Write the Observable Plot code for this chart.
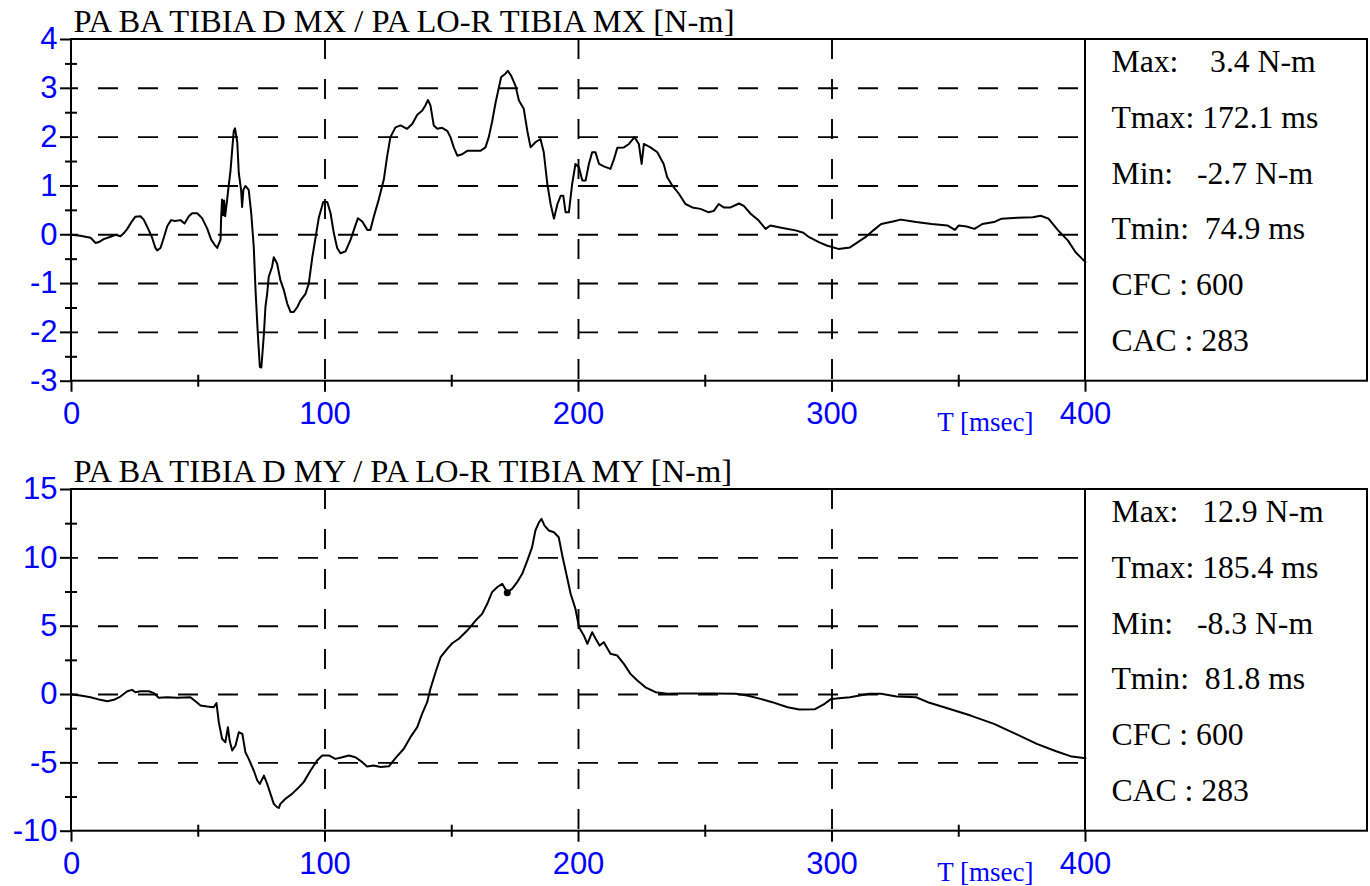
<!DOCTYPE html>
<html>
<head>
<meta charset="utf-8">
<script src="https://cdn.jsdelivr.net/npm/d3@7"></script>
<script src="https://cdn.jsdelivr.net/npm/@observablehq/plot@0.6"></script>
<style>
html, body { margin: 0; padding: 0; background: #fff; }
#chart svg { display: block; }
</style>
</head>
<body>
<div id="chart"></div>
<script>
const BLUE = "#0000ff";
const SERIF = "'Liberation Serif','Times New Roman',serif";
const SANS = "'Liberation Sans',Arial,sans-serif";

// shared time axis
const xTicks = [0, 100, 200, 300, 400];
const xMinor = [50, 150, 250, 350];
const xGrid = [100, 200, 300];
const xLabel = "T [msec]";

// ---- panel 1: MX ----
const mxTitle = "PA BA TIBIA D MX / PA LO-R TIBIA MX [N-m]";
const mxT = [0,3.5,7.5,9.5,10.8,12.7,15.4,17.4,19.3,20.6,22,23.9,25.2,27.2,28.5,29.9,31.8,33.1,33.8,35.1,36.4,37.8,39.3,40.8,43,44.6,46.3,47.6,49.6,51.5,53.5,55.1,56.4,57.5,58,58.8,59,59.4,59.8,60.2,60.6,61.4,62,62.7,63.4,64,64.5,65.4,66,66.9,67.3,67.8,68.6,69.9,70.9,71.9,72.6,73.5,74.3,74.9,75.9,76.5,77.2,77.8,79.1,79.8,81.1,82.4,83.8,85.1,86.4,87.7,89.1,90.3,92.3,93.6,95,96.3,97.6,99.3,100.9,102.2,103.5,104.8,106.1,108.1,110.1,111.4,113,114.7,116.7,117.9,119.3,121.2,123.2,124.5,125.8,127.8,129.8,132.4,134.4,136.4,138.3,139.6,140.6,141.6,142.9,144.3,146.2,148.2,149.5,150.8,152.2,154.1,156.1,158.7,161.3,163.3,164.6,165.9,167.3,168.6,169.5,171.2,172.1,173.4,175.1,176.5,178.4,179.8,181.1,183.1,185,186.3,187.7,189,190.3,191.7,193,194,194.9,196.2,197.5,198.8,200.2,201.5,202.8,204.1,205.4,206.7,208.1,210,212.6,214,215.3,217.9,219.9,222.1,223.8,224.9,225.8,228.4,231.1,233.6,235,237,239.6,242.2,244.9,248.1,251.4,253.4,255.3,257.3,260,263.3,265.2,267.9,271.1,273.8,275.7,279.5,285.6,288.7,291,294.8,297.9,302.5,307.1,310.2,313.2,316.3,319.4,324,327.1,333.2,339.3,345.5,348.5,350,353.1,356.2,359.3,363.9,366.9,373.1,379.2,382.3,385.4,389.2,393.1,396.1,400];
const mxV = [0,-0.02,-0.06,-0.17,-0.15,-0.09,-0.04,0,-0.03,0.03,0.12,0.28,0.37,0.38,0.31,0.16,-0.06,-0.27,-0.32,-0.27,-0.06,0.18,0.3,0.28,0.3,0.23,0.38,0.44,0.44,0.34,0.13,-0.1,-0.2,-0.27,-0.2,-0.1,0.31,0.72,0.4,0.7,0.38,0.72,1.0,1.3,1.75,2.12,2.18,1.89,1.26,0.92,0.57,0.92,1.0,0.92,0.44,-0.25,-1.14,-2.03,-2.71,-2.72,-2.03,-1.48,-1.2,-0.86,-0.66,-0.46,-0.59,-0.93,-1.14,-1.41,-1.58,-1.58,-1.48,-1.35,-1.21,-1.0,-0.46,-0.05,0.36,0.67,0.67,0.44,0.03,-0.27,-0.38,-0.34,-0.1,0.1,0.34,0.27,0.1,0.1,0.38,0.72,1.13,1.6,2.0,2.2,2.24,2.17,2.27,2.46,2.54,2.65,2.76,2.65,2.24,2.17,2.19,2.13,2.0,1.79,1.62,1.65,1.72,1.72,1.72,1.79,2.0,2.31,2.71,3.02,3.23,3.3,3.36,3.26,3.06,2.75,2.58,2.13,1.79,1.9,1.96,1.69,1.04,0.63,0.33,0.63,0.8,0.8,0.46,0.46,1.04,1.45,1.38,1.11,1.11,1.45,1.69,1.69,1.45,1.4,1.35,1.55,1.78,1.79,1.86,2.0,1.86,1.45,1.86,1.79,1.69,1.45,1.18,1.01,0.84,0.63,0.56,0.53,0.46,0.49,0.63,0.56,0.56,0.64,0.59,0.43,0.29,0.12,0.19,0.15,0.09,0.04,-0.05,-0.15,-0.22,-0.29,-0.26,-0.15,-0.05,0.09,0.22,0.27,0.31,0.26,0.22,0.19,0.1,0.19,0.17,0.12,0.22,0.26,0.33,0.35,0.36,0.39,0.33,0.09,-0.12,-0.36,-0.56];
const mxDomain = [-3, 4];
const mxTicks = [-3, -2, -1, 0, 1, 2, 3, 4];
const mxMinorTicks = [-2.5, -1.5, -0.5, 0.5, 1.5, 2.5, 3.5];
const mxGrid = [-2, -1, 0, 1, 2, 3];
const mxStats = ["Max:    3.4 N-m", "Tmax: 172.1 ms", "Min:   -2.7 N-m", "Tmin:  74.9 ms", "CFC : 600", "CAC : 283"];

// ---- panel 2: MY ----
const myTitle = "PA BA TIBIA D MY / PA LO-R TIBIA MY [N-m]";
const myT = [0,3.5,7.5,11.4,14.1,16.7,19.3,22,23.9,25.2,27.2,30.5,32.5,34.4,37.7,41.7,46.9,48.9,50.9,53.5,56.1,57.2,58.1,59.4,60.7,61.7,62.4,63.4,64.7,66,67.4,68.6,69.9,71.9,73.3,74.3,75.9,77.2,78.5,79.8,81.1,81.8,82.4,84.4,87,89.7,91.6,94.3,96.9,98.9,101.5,104.1,106.8,109.4,112,114.7,116.6,119.2,121.9,125.2,127.8,131.1,133.7,136.4,138.3,140.3,141.6,143.6,145.6,148.2,150.2,152.8,156.1,159.4,162,164,165.9,167.9,169.9,171.9,173.8,175.8,177.8,179.8,181.7,183,184.4,185.4,186.6,188.3,190.3,192.2,193.6,194.9,196.9,198.8,200.2,202.1,203.5,205.4,206.7,208.3,210,212.6,215.3,217.9,220.5,223.2,226.4,230.4,235,240.2,253.4,262,266.5,271.8,276.4,282.5,287.1,293.3,297.1,299.7,301.7,307.1,314.8,319.4,325.5,333.2,337.8,345.5,354.7,363.9,373.1,380.8,388.4,394.6,400];
const myV = [0,-0.07,-0.2,-0.39,-0.49,-0.39,-0.15,0.24,0.34,0.17,0.24,0.24,0.1,-0.24,-0.2,-0.24,-0.2,-0.49,-0.8,-0.88,-0.93,-0.63,-2.02,-3.24,-3.49,-2.39,-3.39,-4.1,-3.73,-2.76,-2.88,-4.22,-4.71,-5.56,-6.29,-6.54,-5.93,-6.54,-7.27,-8.0,-8.24,-8.3,-8.0,-7.63,-7.27,-6.78,-6.41,-5.56,-4.83,-4.46,-4.46,-4.71,-4.59,-4.46,-4.59,-4.95,-5.27,-5.2,-5.3,-5.25,-4.65,-3.97,-3.12,-2.39,-1.41,-0.56,0.42,1.63,2.73,3.34,3.75,4.08,4.68,5.41,5.9,6.64,7.49,7.85,8.1,7.49,7.73,8.22,8.83,9.8,10.78,12.0,12.6,12.85,12.36,12.0,11.87,11.51,10.17,9.07,7.37,6.27,4.92,4.32,3.71,4.56,4.1,3.58,3.83,2.98,2.85,2.24,1.51,1.02,0.53,0.17,0.05,0.07,0.07,0.05,-0.07,-0.32,-0.56,-0.93,-1.1,-1.07,-0.68,-0.32,-0.3,-0.2,0.05,0.05,-0.15,-0.2,-0.56,-1.0,-1.54,-2.15,-2.93,-3.61,-4.15,-4.54,-4.66];
const myMarkT = [171.9];
const myMarkV = [7.45];
const myDomain = [-10, 15];
const myTicks = [-10, -5, 0, 5, 10, 15];
const myMinorTicks = [-7.5, -2.5, 2.5, 7.5, 12.5];
const myGrid = [-5, 0, 5, 10];
const myStats = ["Max:   12.9 N-m", "Tmax: 185.4 ms", "Min:   -8.3 N-m", "Tmin:  81.8 ms", "CFC : 600", "CAC : 283"];

function panel({title, t, v, markT, markV, yDomain, ticks, minor, grid, stats, height}) {
  const data = t.map((d, i) => ({t: d, v: v[i]}));
  const marks = markT ? markT.map((d, i) => ({t: d, v: markV[i]})) : [];
  const statFS = 31.7, statLH = 1.755;
  const statText = stats.map(s => s.replace(/ /g, "\u00a0")).join("\n");
  const box = (index, scales, values, dims) => {
    const g = d3.create("svg:g").attr("fill", "none").attr("stroke", "black").attr("stroke-width", 2);
    const x0 = dims.marginLeft, x1 = dims.width - 3;
    const y0 = dims.marginTop, y1 = dims.height - dims.marginBottom;
    g.append("rect").attr("x", x0).attr("y", y0).attr("width", x1 - x0).attr("height", y1 - y0);
    const xs = scales.x(400);
    g.append("line").attr("x1", xs).attr("x2", xs).attr("y1", y0).attr("y2", y1);
    return g.node();
  };
  const dashed = {stroke: "black", strokeOpacity: 1, strokeWidth: 1.9, strokeDasharray: "20,20"};
  return Plot.plot({
    width: 1370,
    height,
    marginLeft: 71,
    marginRight: 285,
    marginTop: 39,
    marginBottom: height - 380.7,
    style: {background: "white", fontFamily: SANS, overflow: "visible"},
    x: {domain: [0, 400], label: null},
    y: {domain: yDomain, label: null},
    marks: [
      Plot.gridY(grid, {...dashed, strokeDashoffset: 13}),
      Plot.gridX(xGrid, dashed),
      Plot.line(data, {x: "t", y: "v", stroke: "black", strokeWidth: 2}),
      Plot.dot(marks, {x: "t", y: "v", r: 3.5, fill: "black"}),
      box,
      Plot.axisY(ticks, {tickSize: 11, tickPadding: 3, fontSize: 31, fill: BLUE, stroke: "black", strokeWidth: 2, tickFormat: d => String(d), label: null}),
      Plot.axisY(minor, {tickSize: 12, dx: 6, fill: "none", stroke: "black", strokeWidth: 2, label: null}),
      Plot.axisX(xTicks, {tickSize: 11, tickPadding: 10, fontSize: 31, fill: BLUE, stroke: "black", strokeWidth: 2, tickFormat: d => String(d), label: null}),
      Plot.axisX(xMinor, {tickSize: 12, dy: -6, fill: "none", stroke: "black", strokeWidth: 2, label: null}),
      Plot.text([title], {text: d => d, frameAnchor: "top-left", textAnchor: "start", lineAnchor: "bottom", dx: 2, dy: -8, fontSize: 32.5, fontFamily: SERIF, fill: "black"}),
      Plot.text([statText], {text: d => d, frameAnchor: "top-right", textAnchor: "start", lineAnchor: "top", dx: 26, dy: 33 - 0.71 * statLH * statFS, fontSize: statFS, lineHeight: statLH, fontFamily: SERIF, fill: "black"}),
      Plot.text([xLabel], {text: d => d, frameAnchor: "bottom-right", textAnchor: "end", lineAnchor: "bottom", dx: -52, dy: 50, fontSize: 27, fontFamily: SERIF, fill: BLUE})
    ]
  });
}

const root = document.getElementById("chart");
root.append(panel({title: mxTitle, t: mxT, v: mxV, yDomain: mxDomain, ticks: mxTicks, minor: mxMinorTicks, grid: mxGrid, stats: mxStats, height: 450}));
root.append(panel({title: myTitle, t: myT, v: myV, markT: myMarkT, markV: myMarkV, yDomain: myDomain, ticks: myTicks, minor: myMinorTicks, grid: myGrid, stats: myStats, height: 436}));
</script>
</body>
</html>
